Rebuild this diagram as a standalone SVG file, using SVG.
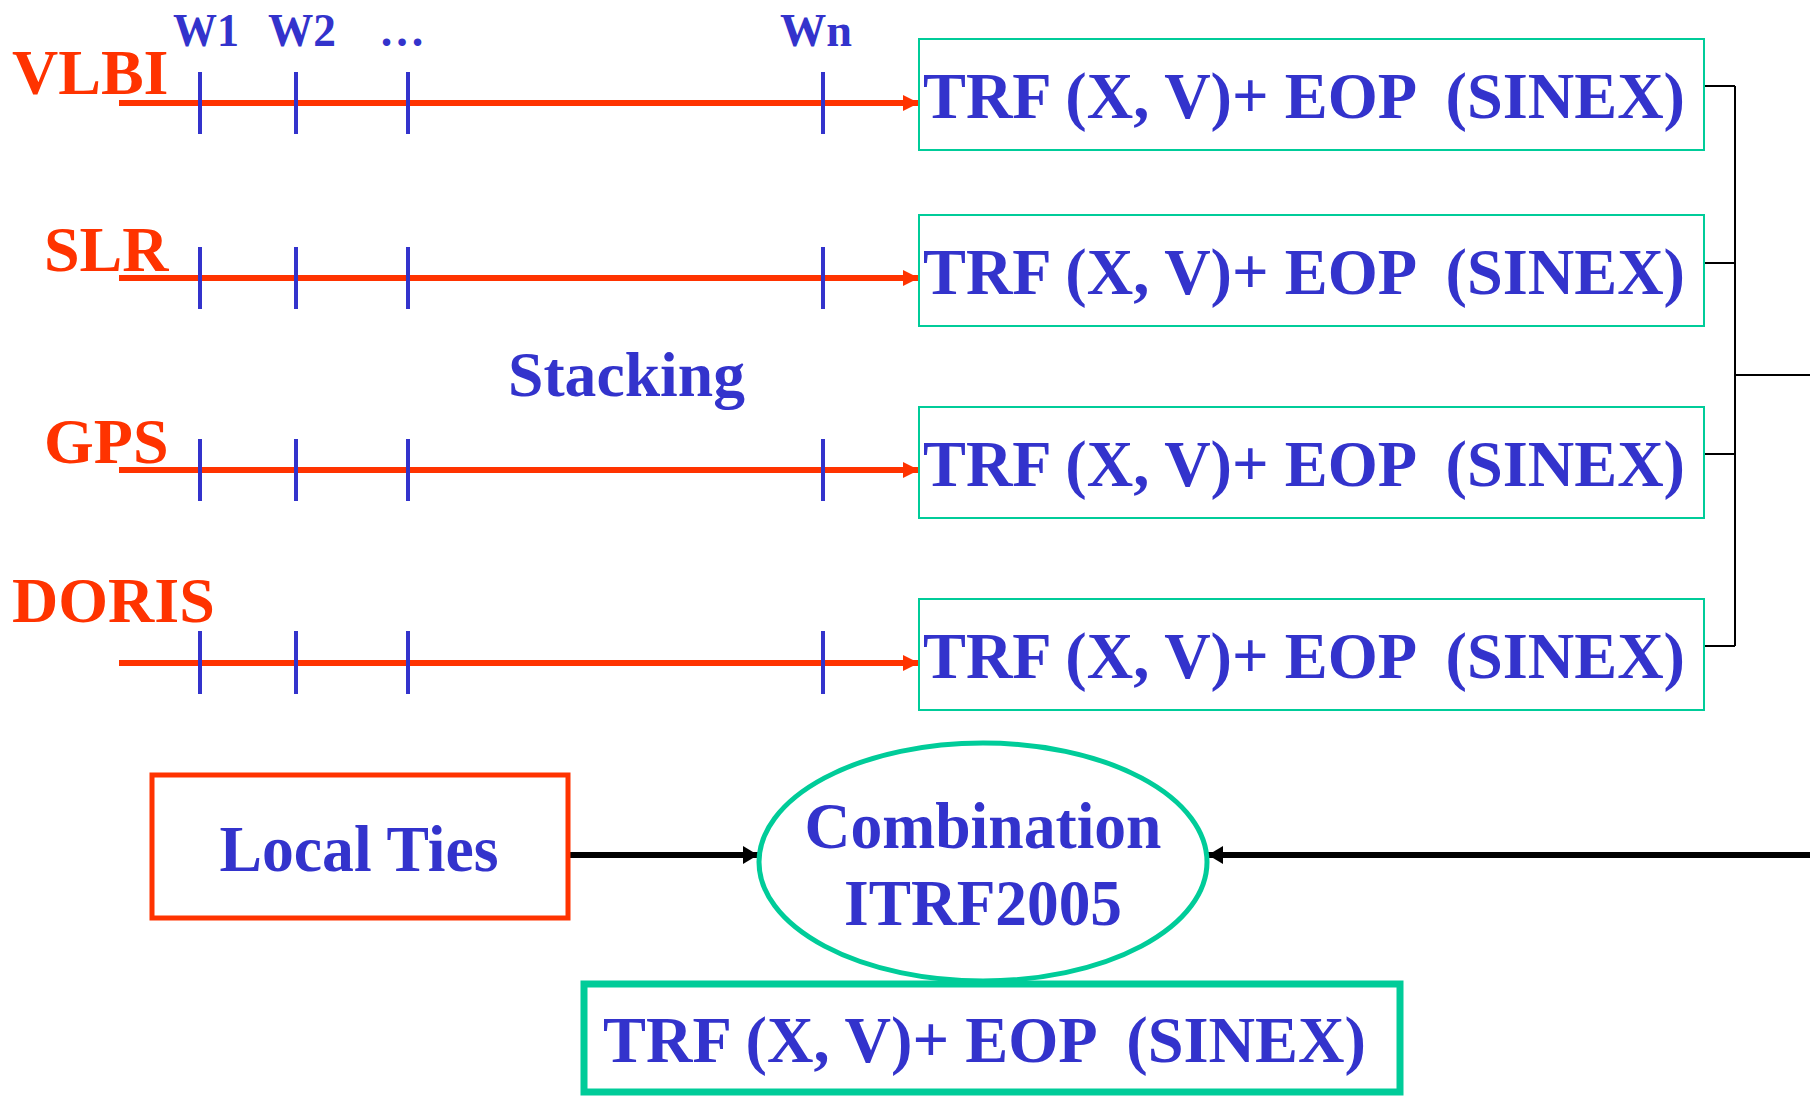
<svg xmlns="http://www.w3.org/2000/svg" width="1810" height="1097" viewBox="0 0 1810 1097">
<defs>
<style>
.lbl{font-family:"Liberation Serif","Times New Roman",serif;font-weight:bold;fill:#ff3300;font-size:64px}
.bt{font-family:"Liberation Serif","Times New Roman",serif;font-weight:bold;fill:#3333cc;white-space:pre}
.box{fill:#ffffff;stroke:#00cc99;stroke-width:2}
.axis{stroke:#ff3300;stroke-width:6;fill:none}
.tick{stroke:#3333cc;stroke-width:4}
.thin{stroke:#000;stroke-width:2;fill:none}
.thick{stroke:#000;stroke-width:6;fill:none}
</style>
<marker id="ra" markerUnits="userSpaceOnUse" markerWidth="16" markerHeight="16" refX="16" refY="8" orient="auto"><path d="M0,0 L16,8 L0,16 z" fill="#ff3300"/></marker>
<marker id="ba" markerUnits="userSpaceOnUse" markerWidth="15" markerHeight="18" refX="15" refY="9" orient="auto"><path d="M0,0 L15,9 L0,18 z" fill="#000"/></marker>
</defs>
<rect width="1810" height="1097" fill="#fff"/>

<g id="week-labels">
<text class="bt" x="206" y="46" font-size="46" text-anchor="middle" textLength="66" lengthAdjust="spacingAndGlyphs">W1</text>
<text class="bt" x="302" y="46" font-size="46" text-anchor="middle" textLength="68" lengthAdjust="spacingAndGlyphs">W2</text>
<text class="bt" x="402" y="46" font-size="46" text-anchor="middle">…</text>
<text class="bt" x="816" y="46" font-size="46" text-anchor="middle" textLength="72" lengthAdjust="spacingAndGlyphs">Wn</text>
</g>

<g id="connectors">
<line class="axis" x1="119" y1="103" x2="919" y2="103" marker-end="url(#ra)"/>
<line class="axis" x1="119" y1="278" x2="919" y2="278" marker-end="url(#ra)"/>
<line class="axis" x1="119" y1="470" x2="919" y2="470" marker-end="url(#ra)"/>
<line class="axis" x1="119" y1="663" x2="919" y2="663" marker-end="url(#ra)"/>
<g class="tick">
<line x1="200" y1="72" x2="200" y2="134"/><line x1="296" y1="72" x2="296" y2="134"/><line x1="408" y1="72" x2="408" y2="134"/><line x1="823" y1="72" x2="823" y2="134"/>
<line x1="200" y1="247" x2="200" y2="309"/><line x1="296" y1="247" x2="296" y2="309"/><line x1="408" y1="247" x2="408" y2="309"/><line x1="823" y1="247" x2="823" y2="309"/>
<line x1="200" y1="439" x2="200" y2="501"/><line x1="296" y1="439" x2="296" y2="501"/><line x1="408" y1="439" x2="408" y2="501"/><line x1="823" y1="439" x2="823" y2="501"/>
<line x1="200" y1="631" x2="200" y2="694"/><line x1="296" y1="631" x2="296" y2="694"/><line x1="408" y1="631" x2="408" y2="694"/><line x1="823" y1="631" x2="823" y2="694"/>
</g>
<path class="thin" d="M1704,86 H1735 M1704,263 H1735 M1704,454 H1735 M1704,646 H1735 M1735,86 V646 M1735,375 H1810"/>
<line class="thick" x1="568" y1="855" x2="758" y2="855" marker-end="url(#ba)"/>
<line class="thick" x1="1810" y1="855" x2="1208" y2="855" marker-end="url(#ba)"/>
</g>

<g id="vlbi"><text class="lbl" x="12" y="94">VLBI</text></g>
<g id="slr"><text class="lbl" x="44" y="271">SLR</text></g>
<g id="gps"><text class="lbl" x="44" y="463">GPS</text></g>
<g id="doris"><text class="lbl" x="12" y="622">DORIS</text></g>

<g id="stacking"><text class="bt" x="508" y="396" font-size="64" textLength="237" lengthAdjust="spacingAndGlyphs">Stacking</text></g>

<g id="sinex-vlbi"><rect class="box" x="919" y="39" width="785" height="111"/><text class="bt" x="923" y="118" font-size="66" textLength="762" lengthAdjust="spacingAndGlyphs">TRF (X, V)+ EOP  (SINEX)</text></g>
<g id="sinex-slr"><rect class="box" x="919" y="215" width="785" height="111"/><text class="bt" x="923" y="294" font-size="66" textLength="762" lengthAdjust="spacingAndGlyphs">TRF (X, V)+ EOP  (SINEX)</text></g>
<g id="sinex-gps"><rect class="box" x="919" y="407" width="785" height="111"/><text class="bt" x="923" y="486" font-size="66" textLength="762" lengthAdjust="spacingAndGlyphs">TRF (X, V)+ EOP  (SINEX)</text></g>
<g id="sinex-doris"><rect class="box" x="919" y="599" width="785" height="111"/><text class="bt" x="923" y="678" font-size="66" textLength="762" lengthAdjust="spacingAndGlyphs">TRF (X, V)+ EOP  (SINEX)</text></g>

<g id="local-ties"><rect x="152" y="775" width="416" height="143" fill="#fff" stroke="#ff3300" stroke-width="5"/><text class="bt" x="359" y="871" font-size="66" text-anchor="middle" textLength="279" lengthAdjust="spacingAndGlyphs">Local Ties</text></g>

<g id="combination"><ellipse cx="983" cy="862" rx="224" ry="119" fill="#fff" stroke="#00cc99" stroke-width="5"/>
<text class="bt" x="983" y="848" font-size="66" text-anchor="middle" textLength="357" lengthAdjust="spacingAndGlyphs">Combination</text>
<text class="bt" x="983" y="925" font-size="66" text-anchor="middle" textLength="278" lengthAdjust="spacingAndGlyphs">ITRF2005</text></g>

<g id="itrf-sinex"><rect x="584" y="984" width="816" height="108" fill="#fff" stroke="#00cc99" stroke-width="7"/><text class="bt" x="603" y="1062" font-size="66" textLength="763" lengthAdjust="spacingAndGlyphs">TRF (X, V)+ EOP  (SINEX)</text></g>
</svg>
